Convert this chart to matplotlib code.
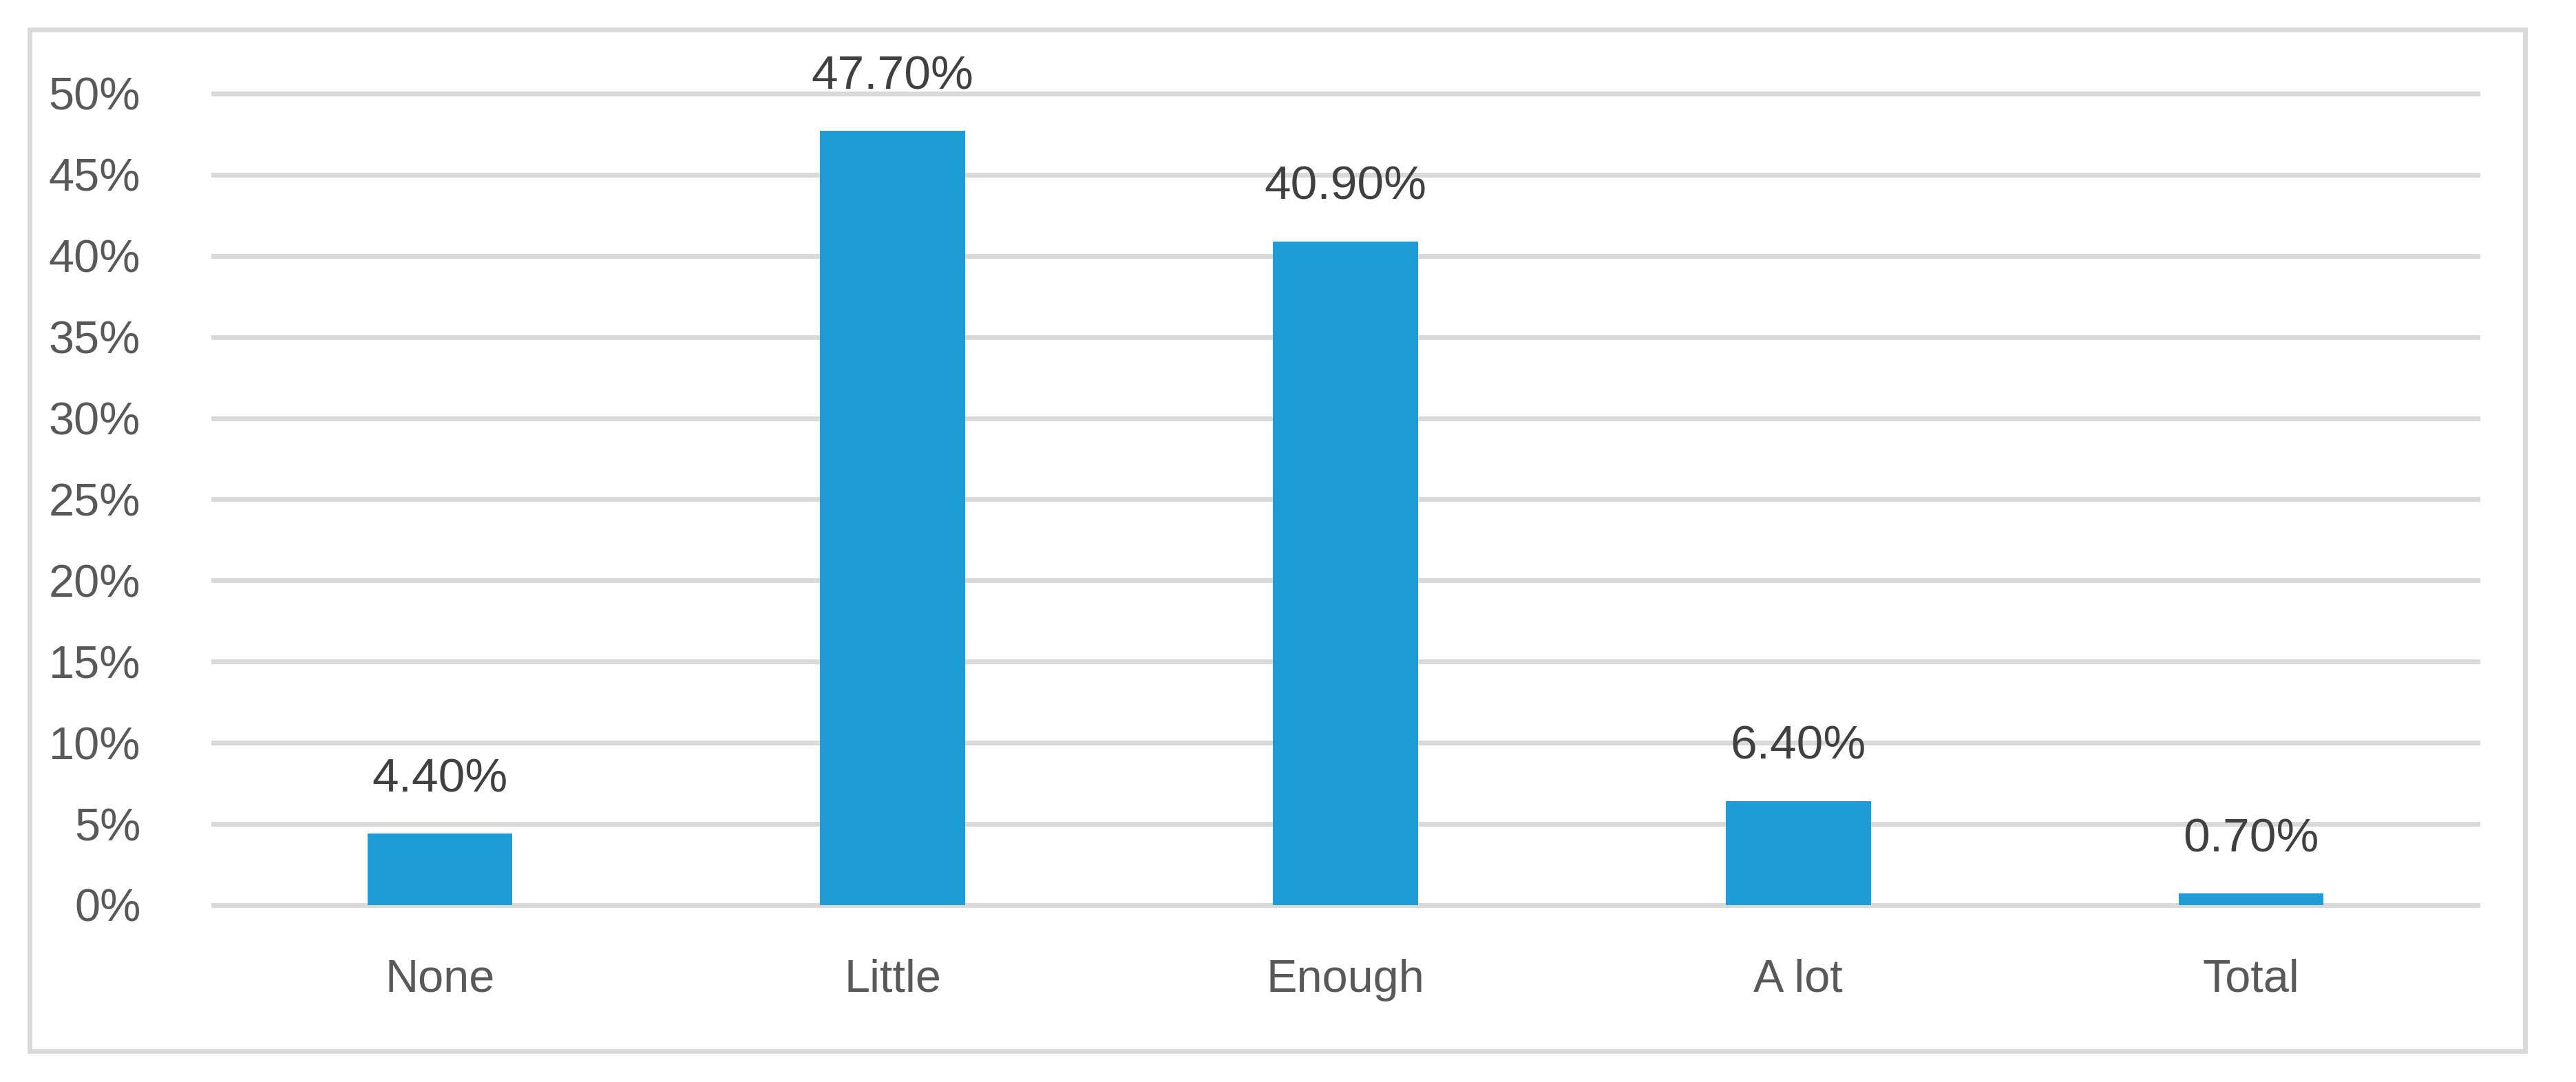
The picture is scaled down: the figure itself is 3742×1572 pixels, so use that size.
import matplotlib.pyplot as plt
from matplotlib.patches import Rectangle

categories = ["None", "Little", "Enough", "A lot", "Total"]
values = [4.4, 47.7, 40.9, 6.4, 0.7]
y_ticks = [0, 5, 10, 15, 20, 25, 30, 35, 40, 45, 50]

plt.rcParams['font.family'] = ['Liberation Sans', 'DejaVu Sans']

fig = plt.figure(figsize=(37.42, 15.72), dpi=100)
ax = fig.add_axes([0.0828, 0.1635, 0.879, 0.75])

# outer frame around the chart
fig.patches.append(Rectangle((0.0115, 0.0286), 0.9687, 0.944, transform=fig.transFigure,
                             fill=False, edgecolor='#d9d9d9', linewidth=5))

x = range(len(categories))
bars = ax.bar(x, values, width=0.32, color='#1e9cd7', zorder=3)

for b, v in zip(bars, values):
    ax.text(b.get_x() + b.get_width() / 2, v + 2.0, f"{v:.2f}%", ha='center', va='bottom',
            fontsize=50, color='#404040', zorder=4)

ax.set_xlim(-0.5, len(categories) - 0.5)
ax.set_ylim(0, 50)
ax.set_yticks(y_ticks)
ax.set_yticklabels([f"{t}%" for t in y_ticks])
ax.set_xticks(list(x))
ax.set_xticklabels(categories)
ax.tick_params(axis='both', length=0, labelsize=48, labelcolor='#595959')
ax.tick_params(axis='y', pad=76)
ax.tick_params(axis='x', pad=56)

for t in y_ticks:
    ax.axhline(t, color='#d9d9d9', linewidth=5, zorder=1, clip_on=False)

for s in ax.spines.values():
    s.set_visible(False)

fig.savefig("out.png", dpi=100)
